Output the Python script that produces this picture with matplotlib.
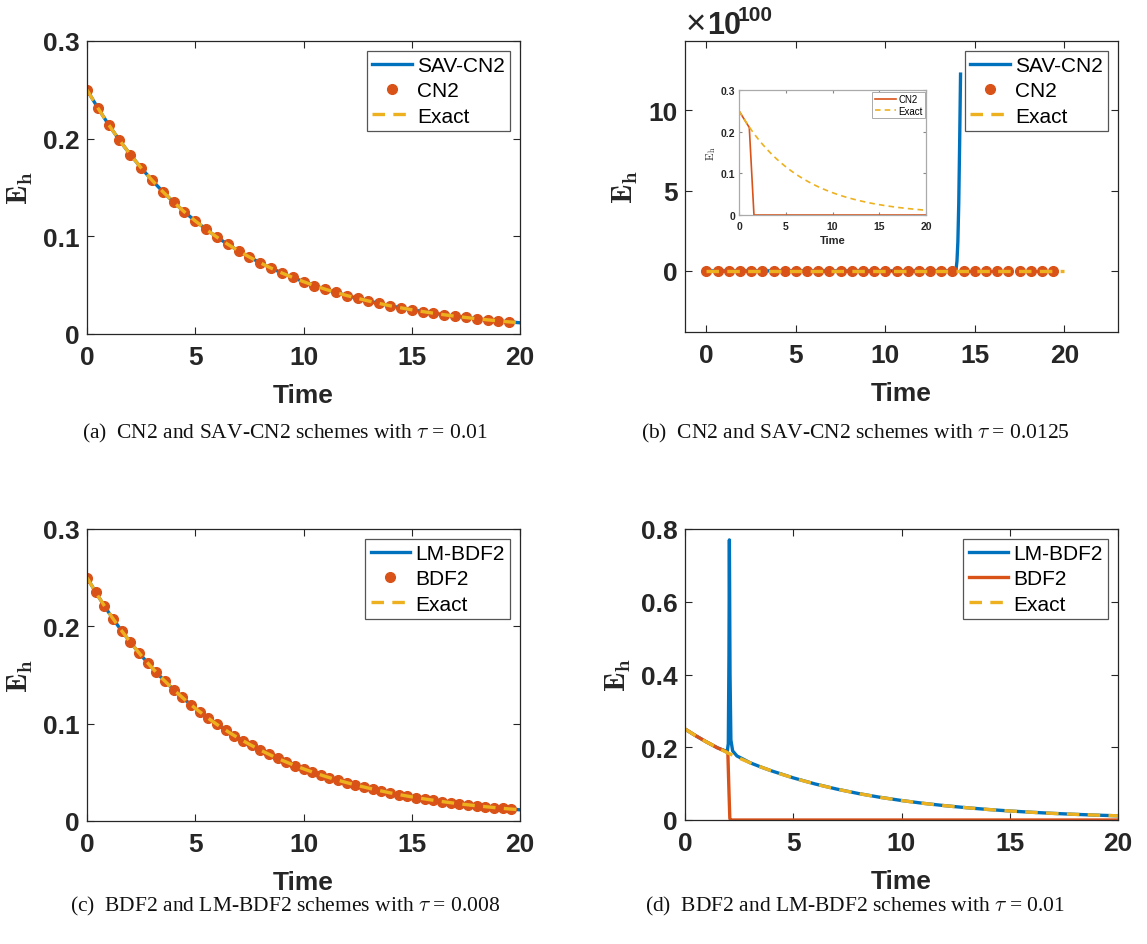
import numpy as np
import matplotlib
matplotlib.use("Agg")
import matplotlib.pyplot as plt

plt.rcParams['font.family'] = ['Liberation Sans', 'DejaVu Sans']
plt.rcParams['mathtext.fontset'] = 'cm'
plt.rcParams['lines.scale_dashes'] = False

# ---------------- data ----------------
# reference energy E_h(t) sampled every 0.5 time units
t_exact = np.arange(0, 20.01, 0.5)
e_exact = [0.2500, 0.2315, 0.2143, 0.1984, 0.1837, 0.1701, 0.1575, 0.1458,
           0.1350, 0.1250, 0.1158, 0.1072, 0.0992, 0.0919, 0.0851, 0.0788,
           0.0729, 0.0675, 0.0625, 0.0579, 0.0536, 0.0496, 0.0459, 0.0425,
           0.0394, 0.0365, 0.0338, 0.0313, 0.0289, 0.0268, 0.0248, 0.0230,
           0.0213, 0.0197, 0.0182, 0.0169, 0.0156, 0.0145, 0.0134, 0.0124,
           0.0115]

# (a) tau = 0.01
sav_cn2_a_t = t_exact
sav_cn2_a_E = e_exact
cn2_a_t = np.arange(0, 19.51, 0.5)
cn2_a_E = e_exact[:40]

# (b) tau = 0.0125, main axes in units of 1e100
sav_cn2_b_t = [0.0, 13.9, 13.95, 14.0, 14.05, 14.1, 14.15, 14.2]
sav_cn2_b_E = [0.0, 0.0, 0.1, 0.6, 1.8, 4.2, 8.0, 12.24]
cn2_b_t = np.arange(0, 19.4, 0.625)
cn2_b_E = [0.0] * 32
exact_b_E = [0.0] * 41
# (b) inset, plain units
cn2_inset_t = [0.0, 1.1, 1.6, 20.0]
cn2_inset_E = [0.25, 0.21, 0.0, 0.0]

# (c) tau = 0.008
lm_bdf2_c_t = t_exact
lm_bdf2_c_E = e_exact
bdf2_c_t = np.arange(0, 19.61, 0.4)
bdf2_c_E = [0.2500, 0.2351, 0.2210, 0.2078, 0.1954, 0.1837, 0.1728, 0.1624,
            0.1527, 0.1436, 0.1350, 0.1270, 0.1194, 0.1122, 0.1055, 0.0992,
            0.0933, 0.0877, 0.0825, 0.0776, 0.0729, 0.0686, 0.0645, 0.0606,
            0.0570, 0.0536, 0.0504, 0.0474, 0.0446, 0.0419, 0.0394, 0.0370,
            0.0348, 0.0327, 0.0308, 0.0289, 0.0272, 0.0256, 0.0241, 0.0226,
            0.0213, 0.0200, 0.0188, 0.0177, 0.0166, 0.0156, 0.0147, 0.0138,
            0.0130, 0.0122]

# (d) tau = 0.01
lm_bdf2_d_t = [0.0, 0.5, 1.0, 1.5, 1.95, 2.0, 2.03, 2.05, 2.08, 2.12, 2.2,
               2.4, 2.7, 3.0, 3.5, 4.0, 5.0, 6.0, 7.0, 8.0, 9.0, 10.0, 11.0,
               12.0, 13.0, 14.0, 15.0, 16.0, 17.0, 18.0, 19.0, 20.0]
lm_bdf2_d_E = [0.2500, 0.2315, 0.2143, 0.1984, 0.1880, 0.2100, 0.4500,
               0.7700, 0.4000, 0.2200, 0.1900, 0.1760, 0.1670, 0.1575,
               0.1458, 0.1350, 0.1158, 0.0992, 0.0851, 0.0729, 0.0625,
               0.0536, 0.0459, 0.0394, 0.0338, 0.0289, 0.0248, 0.0213,
               0.0182, 0.0156, 0.0134, 0.0115]
bdf2_d_t = [0.0, 0.5, 1.0, 1.5, 1.9, 1.98, 2.03, 2.07, 2.1, 20.0]
bdf2_d_E = [0.2500, 0.2315, 0.2143, 0.1984, 0.1880, 0.1830, 0.0800,
            0.0050, 0.0, 0.0]

captions = [r"(a)  CN2 and SAV-CN2 schemes with $\tau$ = 0.01",
            r"(b)  CN2 and SAV-CN2 schemes with $\tau$ = 0.0125",
            r"(c)  BDF2 and LM-BDF2 schemes with $\tau$ = 0.008",
            r"(d)  BDF2 and LM-BDF2 schemes with $\tau$ = 0.01"]

BLUE = '#0072BD'
ORANGE = '#D95319'
YELLOW = '#EDB120'
DARK = '#262626'

W, H = 1147, 945
fig = plt.figure(figsize=(W / 100, H / 100), dpi=100)


def px_axes(left, top, right, bottom):
    return fig.add_axes([left / W, 1 - bottom / H, (right - left) / W, (bottom - top) / H])


def style(ax, xt, xl, yt, yl, size=19, tlen=5, spine=DARK, xpad=8, ypad=5):
    ax.set_xticks(xt)
    ax.set_xticklabels(xl, fontweight='bold', fontsize=size, color=DARK)
    ax.set_yticks(yt)
    ax.set_yticklabels(yl, fontweight='bold', fontsize=size, color=DARK)
    ax.tick_params(direction='in', top=True, right=True, length=tlen,
                   width=0.8, color=DARK)
    ax.tick_params(axis='x', pad=xpad)
    ax.tick_params(axis='y', pad=ypad)
    for s in ax.spines.values():
        s.set_color(spine)
        s.set_linewidth(0.9)


def labels(ax, size=19, esize=21, pad=10):
    ax.set_xlabel('Time', fontweight='bold', fontsize=size, color=DARK, labelpad=pad)
    ax.set_ylabel(r'$\mathbf{E_h}$', fontsize=esize, color=DARK, labelpad=6)


def legend(ax, handles, names, dx=10, dy=10, size=15):
    bb = ax.get_position()
    wpx, hpx = bb.width * W, bb.height * H
    leg = ax.legend(handles, names, loc='upper right',
                    bbox_to_anchor=(1 - dx / wpx, 1 - dy / hpx),
                    borderaxespad=0, fontsize=size, fancybox=False,
                    framealpha=1, edgecolor='#555555', handlelength=1.9,
                    handletextpad=0.25, labelspacing=0.3, borderpad=0.25)
    leg.get_frame().set_linewidth(0.9)
    return leg


LW = 2.4
DASH = (9, 6)
MS = 7

xt = [0, 5, 10, 15, 20]
xl = ['0', '5', '10', '15', '20']

# ---- (a) ----
ax = px_axes(87, 42, 520, 335)
l1, = ax.plot(sav_cn2_a_t, sav_cn2_a_E, color=BLUE, lw=LW)
l2, = ax.plot(cn2_a_t, cn2_a_E, 'o', color=ORANGE, ms=MS, mec=ORANGE)
l3, = ax.plot(t_exact, e_exact, color=YELLOW, lw=LW, dashes=DASH)
ax.set_xlim(0, 20)
ax.set_ylim(0, 0.3)
style(ax, xt, xl, [0, 0.1, 0.2, 0.3], ['0', '0.1', '0.2', '0.3'])
labels(ax)
legend(ax, [l1, l2, l3], ['SAV-CN2', 'CN2', 'Exact'])

# ---- (b) ----
ax = px_axes(685, 42, 1118, 333)
l1, = ax.plot(sav_cn2_b_t, sav_cn2_b_E, color=BLUE, lw=LW)
l2, = ax.plot(cn2_b_t, cn2_b_E, 'o', color=ORANGE, ms=MS, mec=ORANGE)
l3, = ax.plot(t_exact, exact_b_E, color=YELLOW, lw=LW, dashes=DASH)
ax.set_xlim(-1.2, 23)
ax.set_ylim(-3.8, 14.3)
style(ax, xt, xl, [0, 5, 10], ['0', '5', '10'])
labels(ax)
legend(ax, [l1, l2, l3], ['SAV-CN2', 'CN2', 'Exact'])
fig.text(686 / W, 1 - 34 / H, '\u00d7', fontsize=25, color=DARK, va='baseline')
fig.text(707 / W, 1 - 34 / H, '10', fontsize=22, fontweight='bold', color=DARK, va='baseline')
fig.text(738 / W, 1 - 21 / H, '100', fontsize=15, fontweight='bold', color=DARK, va='baseline')

# inset
ins = px_axes(739, 91, 926, 216)
i1, = ins.plot(cn2_inset_t, cn2_inset_E, color=ORANGE, lw=1.2)
i2, = ins.plot(t_exact, e_exact, color=YELLOW, lw=1.2, dashes=(4, 3))
ins.set_xlim(0, 20)
ins.set_ylim(0, 0.3)
style(ins, xt, xl, [0, 0.1, 0.2, 0.3], ['0', '0.1', '0.2', '0.3'],
      size=7.5, tlen=2.5, spine='#aaaaaa', xpad=4, ypad=2.5)
ins.tick_params(color='#888888')
ins.set_xlabel('Time', fontweight='bold', fontsize=8, color=DARK, labelpad=3)
ins.set_ylabel(r'$\mathrm{E_h}$', fontsize=8, color=DARK, labelpad=2)
ileg = ins.legend([i1, i2], ['CN2', 'Exact'], loc='upper right',
                  bbox_to_anchor=(0.995, 0.985), borderaxespad=0, fontsize=7,
                  fancybox=False, framealpha=1, edgecolor='#aaaaaa',
                  handlelength=2.2, handletextpad=0.2, labelspacing=0.15,
                  borderpad=0.25)
ileg.get_frame().set_linewidth(0.7)

# ---- (c) ----
ax = px_axes(87, 530, 520, 822)
l1, = ax.plot(lm_bdf2_c_t, lm_bdf2_c_E, color=BLUE, lw=LW)
l2, = ax.plot(bdf2_c_t, bdf2_c_E, 'o', color=ORANGE, ms=MS, mec=ORANGE)
l3, = ax.plot(t_exact, e_exact, color=YELLOW, lw=LW, dashes=DASH)
ax.set_xlim(0, 20)
ax.set_ylim(0, 0.3)
style(ax, xt, xl, [0, 0.1, 0.2, 0.3], ['0', '0.1', '0.2', '0.3'])
labels(ax)
legend(ax, [l1, l2, l3], ['LM-BDF2', 'BDF2', 'Exact'])

# ---- (d) ----
ax = px_axes(685, 530, 1118, 821)
l1, = ax.plot(lm_bdf2_d_t, lm_bdf2_d_E, color=BLUE, lw=LW)
l2, = ax.plot(bdf2_d_t, bdf2_d_E, color=ORANGE, lw=LW)
l3, = ax.plot(t_exact, e_exact, color=YELLOW, lw=LW, dashes=DASH)
ax.set_xlim(0, 20)
ax.set_ylim(0, 0.8)
style(ax, xt, xl, [0, 0.2, 0.4, 0.6, 0.8], ['0', '0.2', '0.4', '0.6', '0.8'])
labels(ax)
legend(ax, [l1, l2, l3], ['LM-BDF2', 'BDF2', 'Exact'])

# captions
for (cx, cy), cap in zip([(285, 433), (855, 433), (285, 906), (855, 906)], captions):
    fig.text(cx / W, 1 - cy / H, cap, ha='center', va='center', fontsize=15.5,
             family=['Liberation Serif', 'DejaVu Serif'], color='#111111')

fig.savefig('out.png', dpi=100)
